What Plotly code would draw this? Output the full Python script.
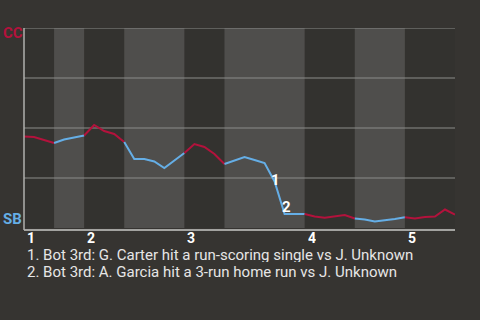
import plotly.graph_objects as go

# CC win probability (%) after each plate appearance (index = PA number)
wp = [45.75, 45.5, 44.0, 42.5, 44.25, 45.25, 46.25, 51.5, 48.5, 47.0,
      43.0, 34.5, 34.5, 33.25, 30.0, 33.75, 37.5, 42.0, 40.5, 37.0,
      32.0, 33.75, 35.5, 34.0, 32.5, 23.25, 7.0, 7.0, 7.0, 5.75,
      5.1, 5.75, 6.5, 4.75, 4.25, 3.25, 3.75, 4.5, 5.35, 4.75,
      5.5, 5.75, 9.25, 6.75]

# half-inning boundaries (PA index), alternating top/bottom
half_starts = [0, 3, 6, 10, 16, 20, 28, 33, 38]
half_ends = [3, 6, 10, 16, 20, 28, 33, 38, 43]
inning_labels = ["1", "2", "3", "4", "5"]
inning_starts = [0, 6, 16, 28, 38]

events = ["1. Bot 3rd: G. Carter hit a run-scoring single vs J. Unknown",
          "2. Bot 3rd: A. Garcia hit a 3-run home run vs J. Unknown"]
event_idx = [25, 26]
event_marks = ["1", "2"]

away_team, home_team = "CC", "SB"
RED = "#b3123c"
BLUE = "#65aee6"
BG = "#363431"
DARK = "#33322f"
LIGHT = "#4f4e4c"
GRID = "#8c8b89"
FONT = "Roboto"

fig = go.Figure()

shapes = []
for k, (s, e) in enumerate(zip(half_starts, half_ends)):
    if k % 2 == 1:
        shapes.append(dict(type="rect", xref="x", yref="paper", x0=s, x1=e,
                           y0=0, y1=1, fillcolor=LIGHT, line_width=0, layer="below"))
for g in [100, 75, 50, 25]:
    shapes.append(dict(type="line", xref="paper", yref="y", x0=0, x1=1, y0=g, y1=g,
                       line=dict(color=GRID, width=1.2), layer="below"))
shapes.append(dict(type="line", xref="paper", yref="paper", x0=0, x1=1, y0=-0.01, y1=-0.01,
                   line=dict(color="#c8c8c6", width=1.5), layer="above"))
shapes.append(dict(type="line", xref="paper", yref="paper", x0=0, x1=0, y0=-0.01, y1=1,
                   line=dict(color="#b0b0ae", width=1.5), layer="above"))

for k, (s, e) in enumerate(zip(half_starts, half_ends)):
    xs = list(range(s, e + 1))
    ys = wp[s:e + 1]
    fig.add_trace(go.Scatter(x=xs, y=ys, mode="lines",
                             line=dict(color=RED if k % 2 == 0 else BLUE, width=2),
                             hoverinfo="skip", showlegend=False))

BOLD = dict(family=FONT, size=15, weight=700)
ann = []
for lab, st in zip(inning_labels, inning_starts):
    ann.append(dict(x=st, y=0, xref="x", yref="paper", text="<b>" + lab + "</b>", showarrow=False,
                    xanchor="left", yanchor="middle", xshift=1, yshift=-9, height=13,
                    font=dict(BOLD, size=14, color="white")))
for lab, i, xs_, ys_ in zip(event_marks, event_idx, [1, 1.5], [2, 8]):
    ann.append(dict(x=i, y=wp[i], xref="x", yref="y", text="<b>" + lab + "</b>", showarrow=False,
                    xanchor="center", yanchor="middle", xshift=xs_, yshift=ys_, height=13,
                    font=dict(BOLD, color="white")))
for j, t in enumerate(events):
    ann.append(dict(x=0, y=0, xref="paper", yref="paper", text=t, showarrow=False,
                    xanchor="left", yanchor="middle", xshift=1, yshift=-26 - 17 * j, height=15,
                    font=dict(family=FONT, size=15, color="#e6e6e6")))
ann.append(dict(x=0, y=1, xref="paper", yref="paper", text="<b>" + away_team + "</b>", showarrow=False,
                xanchor="left", yanchor="middle", xshift=-23, yshift=-5,
                font=dict(BOLD, color=RED)))
ann.append(dict(x=0, y=0, xref="paper", yref="paper", text="<b>" + home_team + "</b>", showarrow=False,
                xanchor="left", yanchor="middle", xshift=-23, yshift=9,
                font=dict(BOLD, color=BLUE)))

fig.update_layout(
    width=480, height=320,
    margin=dict(l=24, r=25, t=28, b=92),
    paper_bgcolor=BG, plot_bgcolor=DARK,
    xaxis=dict(range=[0, 43], showgrid=False, zeroline=False, showticklabels=False,
               showline=False, fixedrange=True),
    yaxis=dict(range=[0, 100], showgrid=False, zeroline=False, showticklabels=False,
               showline=False, fixedrange=True),
    shapes=shapes, annotations=ann, showlegend=False,
    font=dict(family=FONT),
)

fig.write_html("out.html", config={"displayModeBar": False})
